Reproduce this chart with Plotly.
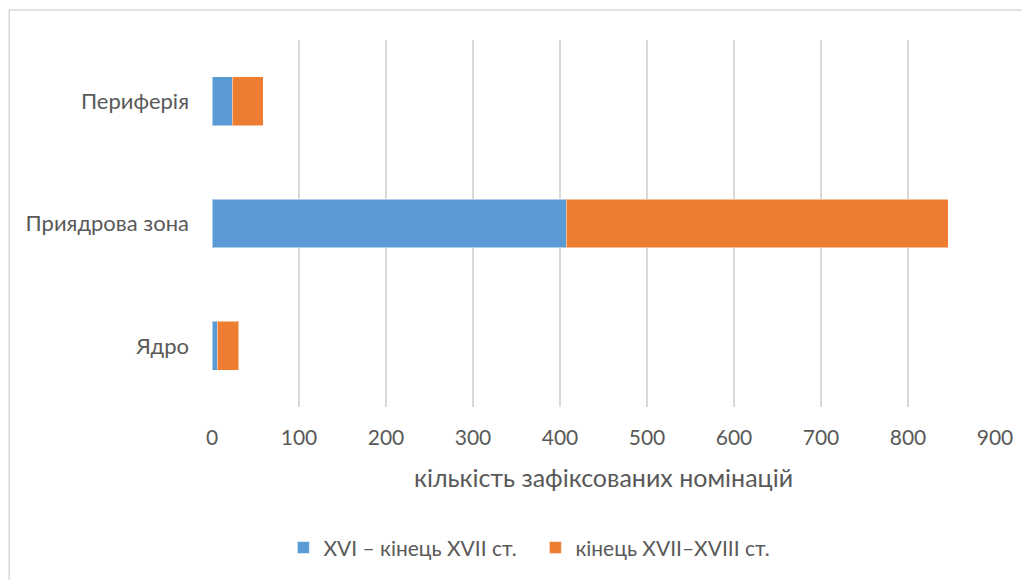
import plotly.graph_objects as go

categories = ["Ядро", "Приядрова зона", "Периферія"]
series_names = ["XVI – кінець XVII ст.", "кінець XVII–XVIII ст."]
early_values = [6, 407, 23]
late_values = [25, 439, 36]
x_ticks = [0, 100, 200, 300, 400, 500, 600, 700, 800, 900]
axis_title = "кількість зафіксованих номінацій"

FONT = "Lato, 'Open Sans', sans-serif"
TXT = "#595959"
GRID = "#d9d9d9"

fig = go.Figure()
fig.add_trace(go.Bar(y=categories, x=early_values, orientation="h", name=series_names[0],
                     marker=dict(color="#5B9BD5", line=dict(color="rgba(255,255,255,0.5)", width=1))))
fig.add_trace(go.Bar(y=categories, x=late_values, orientation="h", name=series_names[1],
                     marker=dict(color="#ED7D31", line=dict(color="rgba(255,255,255,0.5)", width=1))))

fig.update_layout(
    width=1030, height=580,
    barmode="stack", bargap=0.6,
    paper_bgcolor="white", plot_bgcolor="white",
    margin=dict(l=204, r=43, t=32, b=181),
    font=dict(family=FONT, color=TXT, size=22),
    showlegend=True,
    legend=dict(orientation="h", x=0.413, y=-0.384, xanchor="center", yanchor="middle",
                font=dict(size=21, color=TXT), itemwidth=30, entrywidth=207,
                traceorder="normal"),
    xaxis=dict(range=[0, 900], tickvals=x_ticks, showgrid=True, gridcolor=GRID, gridwidth=1.5,
               zeroline=False, showline=False, ticks="", ticklabelstandoff=16,
               tickfont=dict(size=21, color=TXT), fixedrange=True),
    yaxis=dict(showgrid=False, zeroline=False, showline=False, ticks="", ticklabelstandoff=22,
               tickfont=dict(size=22, color=TXT)),
    annotations=[dict(text=axis_title, xref="paper", yref="paper", x=0.5, y=-0.19,
                      xanchor="center", yanchor="middle", showarrow=False,
                      font=dict(size=25, color=TXT, family=FONT))],
    shapes=[dict(type="rect", xref="paper", yref="paper", x0=-0.259, x1=1.2, y0=-0.7, y1=1.082,
                 line=dict(color=GRID, width=1.5), fillcolor="rgba(0,0,0,0)", layer="below")],
)

fig.write_html("out.html")
